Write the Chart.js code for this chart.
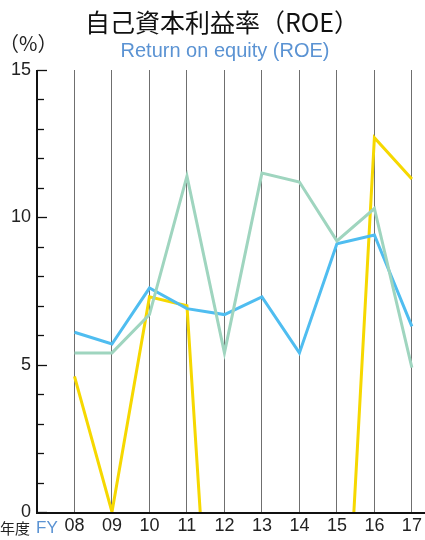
<!DOCTYPE html>
<html>
<head>
<meta charset="utf-8">
<script src="https://cdn.jsdelivr.net/npm/chart.js@4"></script>
<style>
  html, body { margin: 0; padding: 0; background: #fff; }
  #wrap { width: 425px; height: 540px; position: relative; }
</style>
</head>
<body>
<div id="wrap"><canvas id="roeChart" width="425" height="540"></canvas></div>
<script>
// fiscal years and ROE (%) per company series
const years = ['08', '09', '10', '11', '12', '13', '14', '15', '16', '17'];
const blueSeries = [6.1, 5.7, 7.6, 6.9, 6.7, 7.3, 5.4, 9.1, 9.4, 6.3];
const greenSeries = [5.4, 5.4, 6.7, 11.4, 5.4, 11.5, 11.2, 9.2, 10.3, 4.9];
const yellowSeries = [4.6, 0, 7.3, 7.0, -12.8, -12, -11, -10.5, 12.7, 11.3];
const yTicks = [0, 5, 10, 15];

const FONT_LATIN = '"Liberation Sans", Arial, sans-serif';
const FONT_JP = '"Noto Sans CJK JP", sans-serif';

const toPoints = arr => arr.map((v, i) => ({ x: 8 + i, y: v }));

const decorations = {
  id: 'decorations',
  afterDraw(chart) {
    const { ctx, chartArea, scales } = chart;
    const y = scales.y;
    ctx.save();
    // y axis line and inner ticks
    ctx.strokeStyle = '#111';
    ctx.lineWidth = 2;
    ctx.beginPath();
    ctx.moveTo(chartArea.left, chartArea.top);
    ctx.lineTo(chartArea.left, chartArea.bottom + 1);
    ctx.lineTo(chartArea.right, chartArea.bottom + 1);
    ctx.stroke();
    ctx.lineWidth = 1.3;
    for (let v = 0; v <= 15; v++) {
      const py = Math.round(y.getPixelForValue(v)) + 0.5;
      const len = v % 5 === 0 ? 10 : 7;
      ctx.beginPath();
      ctx.moveTo(chartArea.left, py);
      ctx.lineTo(chartArea.left + len, py);
      ctx.stroke();
    }
    // texts
    ctx.textBaseline = 'middle';
    ctx.textAlign = 'center';
    ctx.fillStyle = '#111';
    ctx.font = '25px ' + FONT_JP;
    ctx.fillText('自己資本利益率（ROE）', 222, 22);
    ctx.fillStyle = '#5b93d3';
    ctx.font = '20px ' + FONT_LATIN;
    ctx.fillText('Return on equity (ROE)', 225, 51);
    ctx.fillStyle = '#222';
    ctx.textAlign = 'left';
    ctx.font = '20px ' + FONT_JP;
    ctx.fillText('（%）', -1, 43);
    ctx.font = '15px ' + FONT_JP;
    ctx.fillText('年度', 0, 528);
    ctx.fillStyle = '#5b93d3';
    ctx.font = '17px ' + FONT_LATIN;
    ctx.fillText('FY', 36, 528);
    ctx.restore();
  }
};

const lineStyle = color => ({
  borderColor: color,
  backgroundColor: color,
  borderWidth: 3,
  pointRadius: 0,
  tension: 0,
  fill: false,
  clip: 0
});

new Chart(document.getElementById('roeChart'), {
  type: 'line',
  data: {
    datasets: [
      { label: 'green', data: toPoints(greenSeries), ...lineStyle('#9fd5bf') },
      { label: 'blue', data: toPoints(blueSeries), ...lineStyle('#4fbdf0') },
      { label: 'yellow', data: toPoints(yellowSeries), ...lineStyle('#f6d800') }
    ]
  },
  options: {
    responsive: false,
    animation: false,
    layout: { padding: { top: 70, right: 0, left: 0, bottom: 0 } },
    plugins: { legend: { display: false }, tooltip: { enabled: false } },
    scales: {
      x: {
        type: 'linear',
        min: 7,
        max: 17.35,
        afterFit: s => { s.height = 28; },
        afterBuildTicks: s => { s.ticks = years.map((_, i) => ({ value: 8 + i })); },
        border: { display: false },
        grid: { color: '#6f6f6f', lineWidth: 1, drawTicks: false },
        ticks: {
          padding: 3,
          color: '#222',
          font: { family: FONT_LATIN, size: 18 },
          callback: v => years[v - 8] || ''
        }
      },
      y: {
        min: 0,
        max: 15,
        afterFit: s => { s.width = 37; },
        afterBuildTicks: s => { s.ticks = yTicks.map(v => ({ value: v })); },
        border: { display: false },
        grid: { drawOnChartArea: false, drawTicks: false },
        ticks: {
          padding: 6,
          color: '#222',
          font: { family: FONT_LATIN, size: 18 }
        }
      }
    }
  },
  plugins: [decorations]
});
</script>
</body>
</html>
